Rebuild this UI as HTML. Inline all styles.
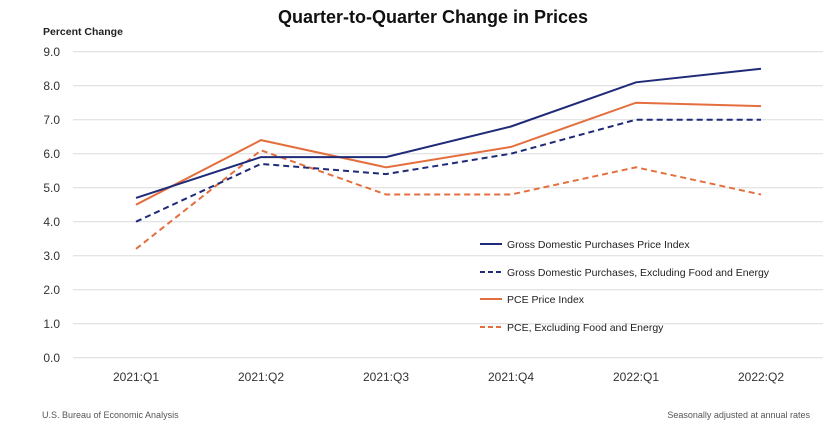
<!DOCTYPE html>
<html><head><meta charset="utf-8"><style>body{margin:0;background:#fff}svg{display:block;font-family:"Liberation Sans",sans-serif}</style></head><body>
<svg width="840" height="441" viewBox="0 0 840 441">
<text x="433" y="23" text-anchor="middle" font-size="18" font-weight="bold" fill="#111">Quarter-to-Quarter Change in Prices</text>
<text x="43" y="35" font-size="10.5" font-weight="bold" fill="#222">Percent Change</text>
<g stroke="#dcdcdc" stroke-width="1">
<line x1="73" x2="823" y1="51.7" y2="51.7"/><line x1="73" x2="823" y1="85.7" y2="85.7"/><line x1="73" x2="823" y1="119.7" y2="119.7"/><line x1="73" x2="823" y1="153.7" y2="153.7"/><line x1="73" x2="823" y1="187.7" y2="187.7"/><line x1="73" x2="823" y1="221.7" y2="221.7"/><line x1="73" x2="823" y1="255.7" y2="255.7"/><line x1="73" x2="823" y1="289.7" y2="289.7"/><line x1="73" x2="823" y1="323.7" y2="323.7"/><line x1="73" x2="823" y1="357.7" y2="357.7"/>
</g>
<g font-size="12" fill="#333" text-anchor="end">
<text x="60" y="56">9.0</text><text x="60" y="90">8.0</text><text x="60" y="124">7.0</text><text x="60" y="158">6.0</text><text x="60" y="192">5.0</text><text x="60" y="226">4.0</text><text x="60" y="260">3.0</text><text x="60" y="294">2.0</text><text x="60" y="328">1.0</text><text x="60" y="362">0.0</text>
</g>
<g font-size="12" fill="#333" text-anchor="middle">
<text x="136" y="381">2021:Q1</text><text x="261" y="381">2021:Q2</text><text x="386" y="381">2021:Q3</text><text x="511" y="381">2021:Q4</text><text x="636" y="381">2022:Q1</text><text x="761" y="381">2022:Q2</text>
</g>
<g fill="none" stroke-width="2">
<polyline stroke="#e46f3e" stroke-dasharray="6,4" points="136,248.9 261,150.3 386,194.5 511,194.5 636,167.3 761,194.5"/>
<polyline stroke="#1f2b78" stroke-dasharray="6,4" points="136,221.7 261,163.9 386,174.1 511,153.7 636,119.7 761,119.7"/>
<polyline stroke="#e46f3e" points="136,204.7 261,140.1 386,167.3 511,146.9 636,102.7 761,106.1"/>
<polyline stroke="#1f2b78" points="136,197.9 261,157.1 386,157.1 511,126.5 636,82.3 761,68.7"/>
</g>
<g stroke-width="2">
<line x1="480" x2="502" y1="244" y2="244" stroke="#1f2b78"/>
<line x1="480" x2="502" y1="272" y2="272" stroke="#1f2b78" stroke-dasharray="5,3"/>
<line x1="480" x2="502" y1="299" y2="299" stroke="#e46f3e"/>
<line x1="480" x2="502" y1="327" y2="327" stroke="#e46f3e" stroke-dasharray="5,3"/>
</g>
<g font-size="10.5" fill="#222">
<text x="507" y="248">Gross Domestic Purchases Price Index</text>
<text x="507" y="276">Gross Domestic Purchases, Excluding Food and Energy</text>
<text x="507" y="303">PCE Price Index</text>
<text x="507" y="331">PCE, Excluding Food and Energy</text>
</g>
<text x="42" y="418" font-size="9" fill="#555">U.S. Bureau of Economic Analysis</text>
<text x="810" y="418" font-size="9" fill="#555" text-anchor="end">Seasonally adjusted at annual rates</text>
</svg>
</body></html>
